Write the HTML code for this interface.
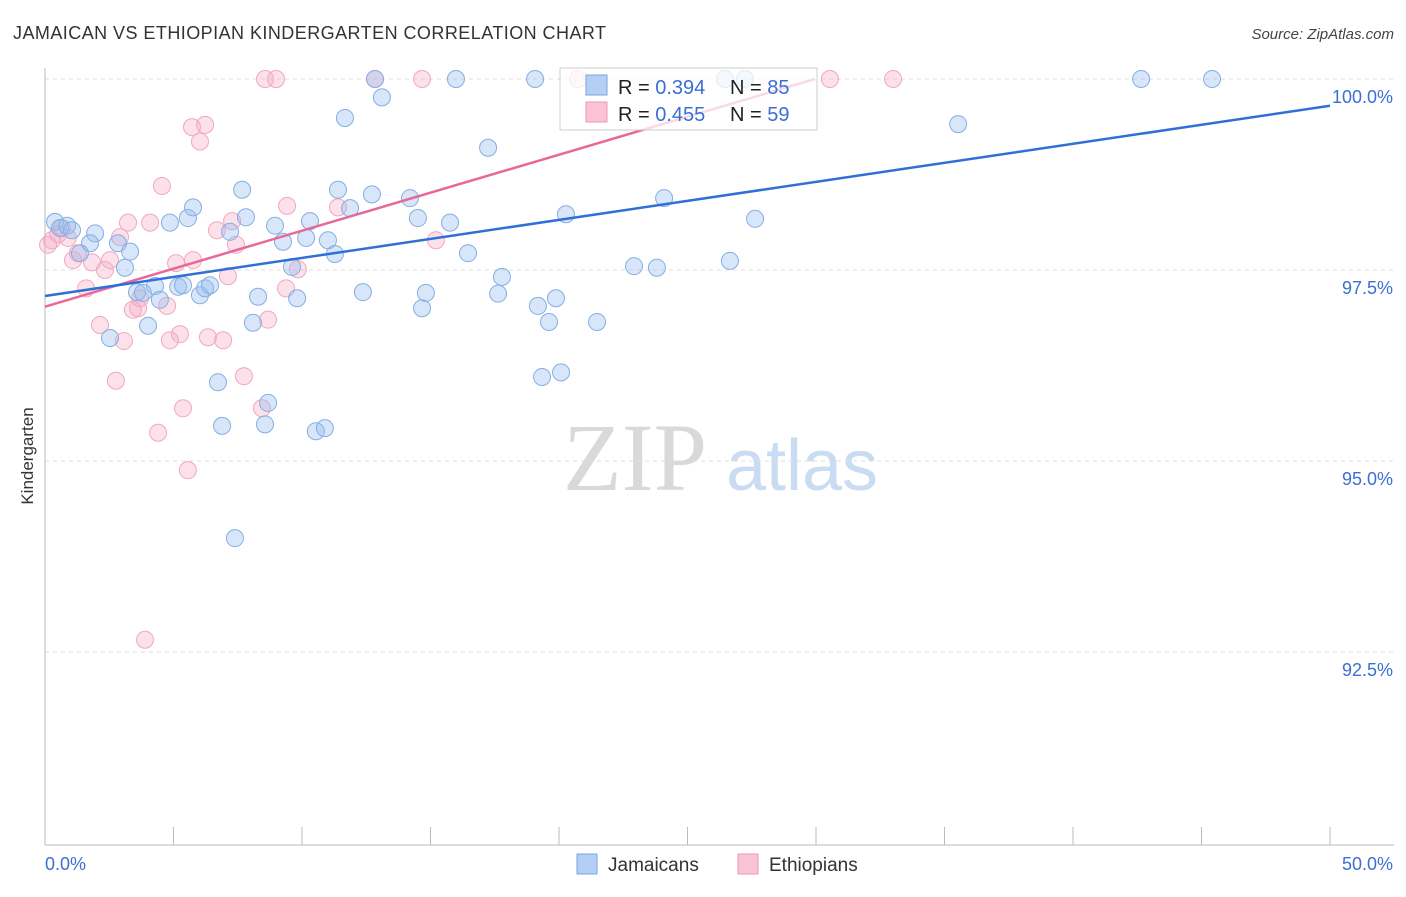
<!DOCTYPE html>
<html><head><meta charset="utf-8"><style>
body{margin:0;background:#fff;font-family:"Liberation Sans",sans-serif;}
</style></head><body>
<svg id="chart" width="1406" height="892" viewBox="0 0 1406 892" xmlns="http://www.w3.org/2000/svg" font-family="Liberation Sans, sans-serif">
<text x="13" y="39" font-size="18" fill="#333" letter-spacing="0.45">JAMAICAN VS ETHIOPIAN KINDERGARTEN CORRELATION CHART</text>
<text x="1394" y="39" font-size="15" fill="#444" text-anchor="end" font-style="italic">Source: ZipAtlas.com</text>
<text transform="translate(33,456) rotate(-90)" font-size="17" fill="#333" text-anchor="middle">Kindergarten</text>
<g>
<text x="635" y="490" font-size="96" fill="#d9d9d9" style="font-family:'Liberation Serif',serif" text-anchor="middle">ZIP</text>
<text x="802" y="490" font-size="72" fill="#c9dcf2" text-anchor="middle">atlas</text>
</g>
<g id="grid"></g><g id="axes"></g><g id="pts"></g><g id="trend"></g>
<g>
<rect x="560" y="68" width="257" height="62" fill="rgba(255,255,255,0.75)" stroke="#ccc"/>
<rect x="586" y="75" width="21" height="20" fill="#b3cff3" stroke="#7aa6e0"/>
<rect x="586" y="102" width="21" height="20" fill="#f9c3d3" stroke="#ee9ab5"/>
<text x="618" y="94" font-size="20" fill="#222">R = <tspan fill="#3b6fd4">0.394</tspan></text>
<text x="730" y="94" font-size="20" fill="#222">N = <tspan fill="#3b6fd4">85</tspan></text>
<text x="618" y="121" font-size="20" fill="#222">R = <tspan fill="#3b6fd4">0.455</tspan></text>
<text x="730" y="121" font-size="20" fill="#222">N = <tspan fill="#3b6fd4">59</tspan></text>
</g>
<g>
<rect x="577" y="854" width="20" height="20" fill="#b3cff3" stroke="#7aa6e0"/>
<text x="608" y="871" font-size="19" fill="#333">Jamaicans</text>
<rect x="738" y="854" width="20" height="20" fill="#f9c3d3" stroke="#ee9ab5"/>
<text x="769" y="871" font-size="19" fill="#333">Ethiopians</text>
</g>
</svg>
<script>
const yTicks=[100,97.5,95,92.5];
const yTickLabels=["100.0%","97.5%","95.0%","92.5%"];
const xTicks=[0,5,10,15,20,25,30,35,40,45,50];
const blueX=[0.39,0.58,0.86,1.05,1.95,1.75,1.36,2.84,3.31,3.11,2.53,4.01,3.58,3.81,4.28,4.47,4.86,5.56,5.76,5.18,5.37,6.03,6.23,6.42,6.73,6.89,7.39,7.20,7.67,7.82,8.09,8.29,8.56,8.68,8.95,9.26,9.61,9.81,10.16,10.31,10.54,10.89,11.01,11.28,11.40,11.87,11.67,12.37,12.72,12.84,13.11,14.20,14.51,14.67,14.82,15.76,15.99,16.46,17.24,17.63,17.78,19.07,19.18,19.34,19.61,19.88,20.08,20.27,21.48,22.92,23.81,24.09,26.46,26.65,27.24,27.63,35.53,42.65,45.41];
const blueY=[98.13,98.05,98.08,98.02,97.98,97.85,97.72,97.85,97.74,97.53,96.61,96.77,97.21,97.20,97.29,97.11,98.12,98.18,98.32,97.28,97.30,97.17,97.26,97.30,96.03,95.46,93.99,98.00,98.55,98.19,96.81,97.15,95.48,95.76,98.08,97.87,97.54,97.13,97.92,98.14,95.39,95.43,97.89,97.71,98.55,98.31,99.49,97.21,98.49,100,99.76,98.44,98.18,97.00,97.20,98.12,100,97.72,99.10,97.19,97.41,100,97.03,96.10,96.82,97.13,96.16,98.23,96.82,97.55,97.53,98.44,100,97.62,100,98.17,99.41,100,100];
const pinkX=[0.12,0.27,0.51,0.66,0.89,1.09,1.28,1.60,1.83,2.14,2.33,2.53,2.76,2.92,3.07,3.23,3.42,3.62,3.70,4.09,4.40,4.55,4.75,4.86,5.10,5.25,5.37,5.56,5.76,5.72,6.03,6.23,6.34,6.69,6.93,7.12,7.28,7.43,7.74,8.44,8.56,8.68,8.99,9.42,9.38,9.84,11.40,12.84,14.67,15.21,3.89,20.74,30.54,33.00];
const pinkY=[97.83,97.89,97.97,98.05,97.92,97.63,97.72,97.26,97.60,96.78,97.50,97.63,96.05,97.93,96.57,98.12,96.98,97.00,97.13,98.12,95.37,98.60,97.03,96.58,97.59,96.66,95.69,94.88,97.63,99.37,99.18,99.40,96.62,98.02,96.58,97.42,98.14,97.83,96.11,95.69,100,96.85,100,98.34,97.26,97.51,98.32,100,100,97.89,92.66,100,100,100];
const blueTrend=[[0,97.16],[50,99.65]];
const pinkTrend=[[0,97.02],[29.96,100]];
const NS="http://www.w3.org/2000/svg";
const X=v=>45+v*25.7, Y=v=>79+(100-v)*76.4;
function mk(t,a,p){const e=document.createElementNS(NS,t);for(const k in a)e.setAttribute(k,a[k]);document.getElementById(p).appendChild(e);return e;}
yTicks.forEach((t,i)=>{
 const l=mk('line',{x1:45,x2:1394,y1:Y(t),y2:Y(t),stroke:'#ddd','stroke-dasharray':'4 4'},'grid');
 
 
 const tx=mk('text',{x:1393,y:Y(t)+24,'font-size':18,fill:'#3b6fd4','text-anchor':'end'},'grid');
 
 
 tx.textContent=yTickLabels[i];
});
let a=mk('line',{x1:45,x2:45,y1:68,y2:845,stroke:'#bbb'},'axes');


a=mk('line',{x1:45,x2:1394,y1:845,y2:845,stroke:'#bbb'},'axes');


xTicks.forEach(t=>{const l=mk('line',{x1:X(t),x2:X(t),y1:827,y2:845,stroke:'#bbb'},'axes');
 
 });
let t1=mk('text',{x:45,y:870,'font-size':18,fill:'#3b6fd4'},'axes');t1.textContent='0.0%';


t1=mk('text',{x:1393,y:870,'font-size':18,fill:'#3b6fd4','text-anchor':'end'},'axes');t1.textContent='50.0%';


pinkX.forEach((x,i)=>{const c=mk('circle',{cx:X(x),cy:Y(pinkY[i]),r:8.5,fill:'rgba(246,170,195,0.35)',stroke:'#f0a8c0','stroke-width':1},'pts');
 
 });
blueX.forEach((x,i)=>{const c=mk('circle',{cx:X(x),cy:Y(blueY[i]),r:8.5,fill:'rgba(150,190,240,0.38)',stroke:'#84aee3','stroke-width':1},'pts');
 
 });
let tl=mk('line',{x1:X(pinkTrend[0][0]),y1:Y(pinkTrend[0][1]),x2:X(pinkTrend[1][0]),y2:Y(pinkTrend[1][1]),stroke:'#e8689a','stroke-width':2.5},'trend');


tl=mk('line',{x1:X(blueTrend[0][0]),y1:Y(blueTrend[0][1]),x2:X(blueTrend[1][0]),y2:Y(blueTrend[1][1]),stroke:'#2f6fd6','stroke-width':2.5},'trend');


</script>
</body></html>
